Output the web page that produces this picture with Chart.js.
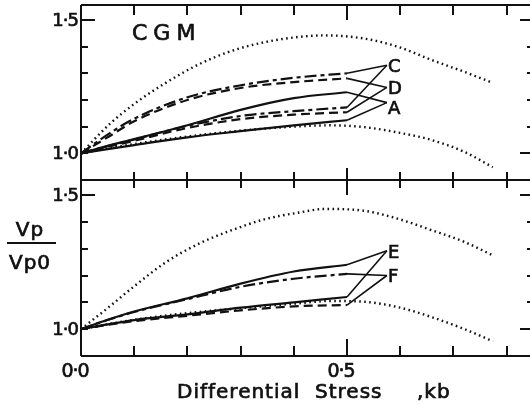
<!DOCTYPE html>
<html>
<head>
<meta charset="utf-8">
<script src="https://cdn.jsdelivr.net/npm/chart.js@4/dist/chart.umd.min.js"></script>
<style>
  body { margin: 0; background: #fff; }
  #wrap { position: relative; width: 530px; height: 408px; }
  canvas { position: absolute; left: 0; top: 0; }
</style>
</head>
<body>
<div id="wrap">
  <canvas id="chartTop" width="530" height="408"></canvas>
  <canvas id="chartBot" width="530" height="408"></canvas>
</div>
<script>
// ---- data (differential stress, kb  vs  Vp/Vp0) ----
var xLines = [0, 0.05, 0.1, 0.2, 0.3, 0.4, 0.5];

// upper panel, CGM
var cUpper = [1.0, 1.07, 1.13, 1.21, 1.255, 1.283, 1.30];
var dUpper = [1.0, 1.06, 1.12, 1.20, 1.245, 1.267, 1.281];
var aUpper = [1.0, 1.028, 1.053, 1.105, 1.163, 1.207, 1.229];
var cLower = [1.0, 1.027, 1.052, 1.103, 1.14, 1.158, 1.172];
var dLower = [1.0, 1.024, 1.047, 1.095, 1.128, 1.145, 1.154];
var aLower = [1.0, 1.016, 1.031, 1.06, 1.083, 1.105, 1.124];

// lower panel
var eUpper = [1.0, 1.035, 1.066, 1.115, 1.17, 1.215, 1.24];
var fUpper = [1.0, 1.034, 1.064, 1.112, 1.158, 1.188, 1.206];
var eLower = [1.0, 1.018, 1.034, 1.055, 1.08, 1.10, 1.12];
var fLower = [1.0, 1.016, 1.03, 1.05, 1.07, 1.085, 1.09];

// dotted envelopes
var xEnvUp = [0, 0.054, 0.1, 0.16, 0.223, 0.285, 0.346, 0.408, 0.458, 0.533, 0.595, 0.659, 0.721, 0.774];
var envUpTop = [1.0, 1.11, 1.185, 1.265, 1.335, 1.385, 1.417, 1.436, 1.442, 1.43, 1.40, 1.35, 1.305, 1.264];
var envUpBot = [1.0, 1.085, 1.16, 1.25, 1.32, 1.37, 1.41, 1.434, 1.448, 1.441, 1.412, 1.369, 1.325, 1.275];
var xEnvLo = [0, 0.1, 0.2, 0.3, 0.4, 0.47, 0.533, 0.596, 0.659, 0.721, 0.774];
var envLoTop = [1.0, 1.035, 1.063, 1.085, 1.10, 1.105, 1.098, 1.078, 1.05, 1.005, 0.948];
var envLoBot = [1.0, 1.035, 1.06, 1.078, 1.095, 1.105, 1.102, 1.082, 1.045, 1.0, 0.955];

// sample labels and where their leader lines meet
var labelX = 0.575;
var topLabels = ['C', 'D', 'A'];
var topLabelY = [1.33, 1.247, 1.19];
var botLabels = ['E', 'F'];
var botLabelY = [1.292, 1.20];

// ticks
var xTickValues = [0.1, 0.2, 0.3, 0.4, 0.5, 0.6, 0.7, 0.8];
var xTickLabels = ['0·0', '0·5'];
var xTickLabelAt = [0, 0.5];
var yTickValues = [1.0, 1.1, 1.2, 1.3, 1.4, 1.5];
var yTickLabels = ['1·0', '1·5'];
var yTickLabelAt = [1.0, 1.5];

var INK = '#111';
var DASHDOT = [12, 4, 4, 4];
var DASHED = [9, 5];
var DOTTED = [1.6, 3.4];

function pts(xs, ys) {
	return xs.map(function (x, i) { return { x: x, y: ys[i] }; });
}

function curve(xs, ys, dash) {
	return {
		data: pts(xs, ys),
		borderColor: INK,
		borderWidth: dash === DOTTED ? 2.4 : 2.2,
		borderDash: dash || [],
		cubicInterpolationMode: 'monotone',
		pointRadius: 0
	};
}

function leader(ys, ty) {
	return {
		data: [{ x: xLines[xLines.length - 1], y: ys[ys.length - 1] }, { x: labelX, y: ty }],
		borderColor: INK,
		borderWidth: 1.6,
		tension: 0,
		pointRadius: 0
	};
}

function setFont(ctx, f, sp) {
	ctx.font = f;
	ctx.letterSpacing = sp || '0px';
}

// text with a slightly heavier stroke, like the printed lettering
function ink(ctx, t, x, y, w) {
	ctx.fillText(t, x, y);
	ctx.lineWidth = w || 0.7;
	ctx.strokeText(t, x, y);
}

var framePlugin = {
	id: 'frame',
	afterDraw: function (chart, args, opts) {
		var ctx = chart.ctx, a = chart.chartArea;
		var xs = chart.scales.x, ys = chart.scales.y;
		ctx.save();
		ctx.strokeStyle = INK;
		ctx.fillStyle = INK;
		ctx.lineWidth = 2;
		ctx.setLineDash([]);
		ctx.beginPath();
		ctx.moveTo(a.left, a.top);
		ctx.lineTo(a.left, a.bottom);
		ctx.moveTo(a.left, a.top);
		ctx.lineTo(a.right, a.top);
		ctx.moveTo(a.left, a.bottom);
		ctx.lineTo(a.right, a.bottom);
		ctx.stroke();

		// y ticks, left and right, pointing inward
		ctx.beginPath();
		yTickValues.forEach(function (v) {
			var py = Math.round(ys.getPixelForValue(v));
			var len = v === 1.5 ? 14 : 7;
			ctx.moveTo(a.left, py); ctx.lineTo(a.left + len, py);
			ctx.moveTo(a.right, py); ctx.lineTo(a.right - (v === 1.5 || v === 1.0 ? 10 : 3), py);
		});
		// x ticks
		xTickValues.forEach(function (v) {
			var px = Math.round(xs.getPixelForValue(v));
			var big = v === 0.5;
			if (opts.panel === 'top') {
				ctx.moveTo(px, a.top); ctx.lineTo(px, a.top + (big ? 15 : 10));
				ctx.moveTo(px, a.bottom - (big ? 12 : 8)); ctx.lineTo(px, a.bottom + (big ? 15 : 8));
			} else {
				ctx.moveTo(px, a.bottom); ctx.lineTo(px, a.bottom - (big ? 17 : 10));
			}
		});
		ctx.stroke();

		// y tick labels
		setFont(ctx, '18px "DejaVu Sans"', '-1px');
		ctx.textAlign = 'right';
		ctx.textBaseline = 'middle';
		yTickLabels.forEach(function (t, i) {
			ink(ctx, t, a.left - 3, ys.getPixelForValue(yTickLabelAt[i]) + 1);
		});

		// sample letters
		setFont(ctx, '18px "DejaVu Sans"');
		ctx.textAlign = 'left';
		var labs = opts.panel === 'top' ? topLabels : botLabels;
		var labY = opts.panel === 'top' ? topLabelY : botLabelY;
		labs.forEach(function (t, i) {
			var off = t === 'A' ? 7 : 2;
			ink(ctx, t, xs.getPixelForValue(labelX) + 1, ys.getPixelForValue(labY[i]) + off);
		});

		if (opts.panel === 'top') {
			setFont(ctx, '22px "DejaVu Sans"', '6px');
			ctx.textAlign = 'left';
			ink(ctx, 'CGM', 132, 34);
		} else {
			// x tick labels
			setFont(ctx, '19px "DejaVu Sans"', '-1px');
			ctx.textAlign = 'center';
			xTickLabels.forEach(function (t, i) {
				ink(ctx, t, xs.getPixelForValue(xTickLabelAt[i]) - 6, a.bottom + 16);
			});
			// x title
			setFont(ctx, '20px "DejaVu Sans"', '1px');
			ctx.textAlign = 'left';
			ink(ctx, 'Differential', 177, 393);
			ink(ctx, 'Stress', 315, 393);
			ink(ctx, ',kb', 417, 393);
			// y title as a fraction
			ctx.textAlign = 'center';
			ink(ctx, 'Vp', 30, 231);
			ink(ctx, 'Vp0', 30, 264);
			ctx.lineWidth = 2;
			ctx.beginPath();
			ctx.moveTo(7, 243); ctx.lineTo(56, 243);
			ctx.stroke();
		}
		ctx.restore();
	}
};

function makeChart(id, panel, datasets, pad) {
	return new Chart(document.getElementById(id).getContext('2d'), {
		type: 'line',
		data: { datasets: datasets },
		options: {
			responsive: false,
			animation: false,
			devicePixelRatio: 1,
			layout: { padding: pad },
			plugins: {
				legend: { display: false },
				tooltip: { enabled: false },
				frame: { panel: panel }
			},
			scales: {
				x: { type: 'linear', min: 0, max: 0.844, display: false },
				y: { type: 'linear', min: 0.9, max: 1.556, display: false }
			}
		},
		plugins: [framePlugin]
	});
}

makeChart('chartTop', 'top', [
	curve(xEnvUp, envUpTop, DOTTED),
	curve(xEnvLo, envLoTop, DOTTED),
	curve(xLines, cUpper, DASHDOT),
	curve(xLines, dUpper, DASHED),
	curve(xLines, aUpper),
	curve(xLines, cLower, DASHDOT),
	curve(xLines, dLower, DASHED),
	curve(xLines, aLower),
	leader(cUpper, topLabelY[0]),
	leader(cLower, topLabelY[0]),
	leader(dUpper, topLabelY[1]),
	leader(dLower, topLabelY[1]),
	leader(aUpper, topLabelY[2]),
	leader(aLower, topLabelY[2])
], { left: 81, right: 0, top: 5, bottom: 228 });

makeChart('chartBot', 'bot', [
	curve(xEnvUp, envUpBot, DOTTED),
	curve(xEnvLo, envLoBot, DOTTED),
	curve(xLines, eUpper),
	curve(xLines, fUpper, DASHDOT),
	curve(xLines, eLower),
	curve(xLines, fLower, DASHED),
	leader(eUpper, botLabelY[0]),
	leader(eLower, botLabelY[0]),
	leader(fUpper, botLabelY[1]),
	leader(fLower, botLabelY[1])
], { left: 81, right: 0, top: 180, bottom: 52 });
</script>
</body>
</html>
